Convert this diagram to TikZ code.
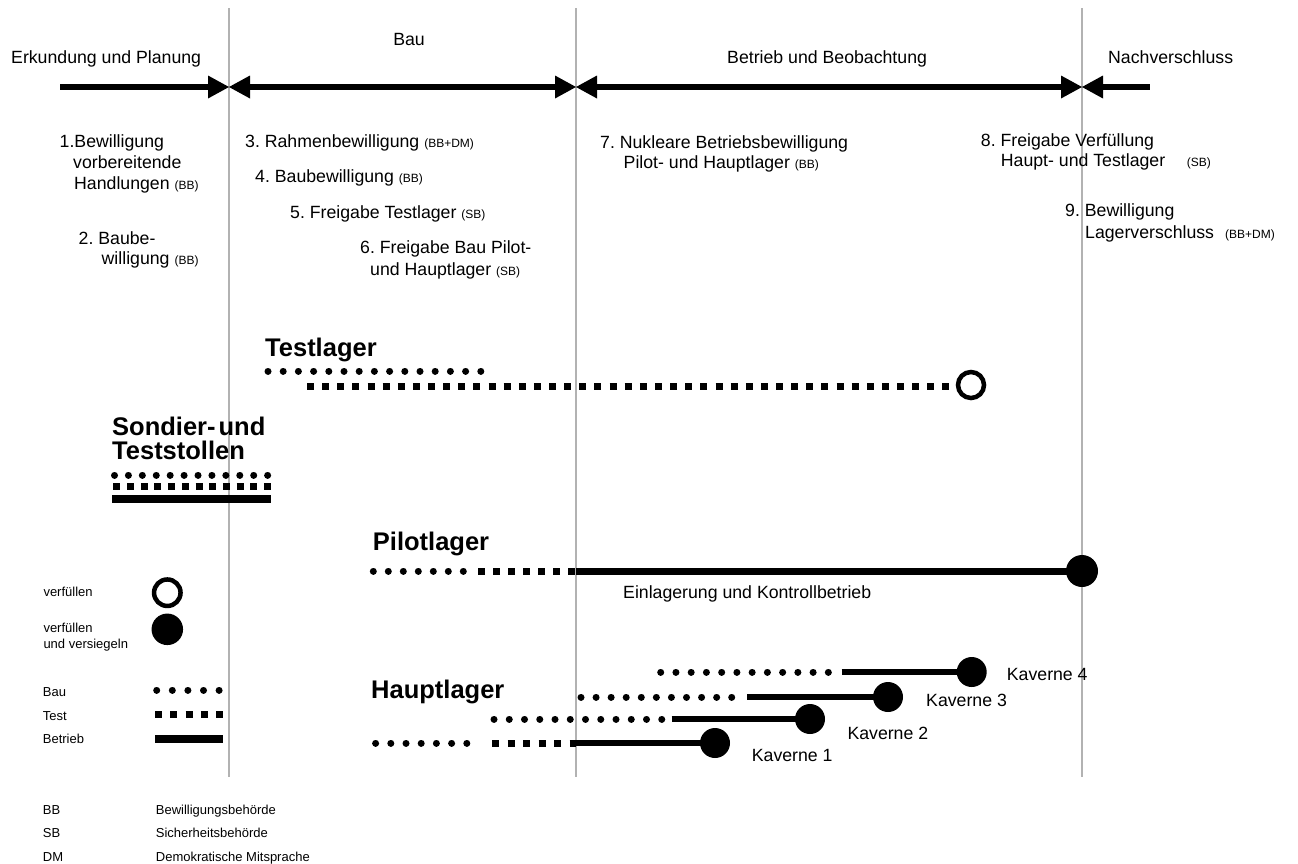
\documentclass[tikz,border=0pt]{standalone}
\usepackage{fontspec}
\setmainfont{Liberation Sans}
\usetikzlibrary{arrows.meta}
\newcommand\smp[1]{{\fontsize{12}{14}\selectfont #1}}
\frenchspacing
\begin{document}
\begin{tikzpicture}[x=1pt,y=-1pt,
  txt/.style={anchor=base west,inner sep=0pt,font=\fontsize{17.7}{21}\selectfont},
  smtxt/.style={anchor=base west,inner sep=0pt,font=\fontsize{12}{14}\selectfont},
  hdr/.style={anchor=base west,inner sep=0pt,font=\fontsize{25.5}{28}\bfseries\selectfont},
  leg/.style={anchor=base west,inner sep=0pt,font=\fontsize{13}{15}\selectfont},
  vline/.style={draw=black!30,line width=1.3pt},
  phase/.style={line width=5.5pt},
  mytri/.tip={Triangle[length=21pt,width=23pt,line width=0pt]},
  dotrow/.style={line width=7pt,line cap=round,dash pattern=on 0.01pt off #1},
  sqrow/.style={line width=7pt,dash pattern=on 7pt off #1},
  oper/.style={line width=#1},
  endfill/.style={circle,fill=black,minimum size=#1,inner sep=0pt},
  endopen/.style={circle,draw=black,line width=4.5pt,minimum size=26pt,inner sep=0pt}
]
\useasboundingbox (0,0) rectangle (1298,863);

% vertical phase separators
\coordinate (v1t) at (229,8);  \coordinate (v1b) at (229,777);
\coordinate (v2t) at (576,8);  \coordinate (v2b) at (576,777);
\coordinate (v3t) at (1082,8); \coordinate (v3b) at (1082,777);
\draw[vline] (v1t) -- (v1b);
\draw[vline] (v2t) -- (v2b);
\draw[vline] (v3t) -- (v3b);

% phase titles
\node[txt] (t1) at (11,63) {Erkundung und Planung};
\node[txt,anchor=base] (t2) at (409,45) {Bau};
\node[txt] (t3) at (727,63) {Betrieb und Beobachtung};
\node[txt] (t4) at (1108,63) {Nachverschluss};

% timeline arrows
\coordinate (a0) at (60,87);
\coordinate (a1) at (229,87);
\coordinate (a2) at (576,87);
\coordinate (a3) at (1082,87);
\coordinate (a4) at (1150,87);
\draw[phase,-mytri] (a0) -- (a1);
\draw[phase,mytri-mytri] (a1) -- (a2);
\draw[phase,mytri-mytri] (a2) -- (a3);
\draw[phase,mytri-] (a3) -- (a4);

% permits
\node[txt] (p1a) at (59.5,147.5) {1.Bewilligung};
\node[txt] (p1b) at (73,168.5) {vorbereitende};
\node[txt] (p1c) at (74,189.5) {Handlungen \smp{(BB)}};
\node[txt] (p2a) at (78.5,244) {2. Baube-};
\node[txt] (p2b) at (101.5,264) {willigung \smp{(BB)}};

\node[txt] (p3) at (245,147) {3. Rahmenbewilligung \smp{(BB+DM)}};
\node[txt] (p4) at (255,182.7) {4. Baubewilligung \smp{(BB)}};
\node[txt] (p5) at (290,218.3) {5. Freigabe Testlager \smp{(SB)}};
\node[txt] (p6a) at (360,253.3) {6. Freigabe Bau Pilot-};
\node[txt] (p6b) at (370,275) {und Hauptlager \smp{(SB)}};

\node[txt] (p7a) at (600,148) {7. Nukleare Betriebsbewilligung};
\node[txt] (p7b) at (623.5,168) {Pilot- und Hauptlager \smp{(BB)}};

\node[txt] (p8a) at (980.7,146.7) {8. Freigabe Verfüllung};
\node[txt] (p8b) at (1000.7,166.7) {Haupt- und Testlager};
\node[smtxt] (p8c) at (1186.7,166.7) {(SB)};
\node[txt] (p9a) at (1065,216) {9. Bewilligung};
\node[txt] (p9b) at (1085,238.3) {Lagerverschluss};
\node[smtxt] (p9c) at (1225,238.3) {(BB+DM)};

% Testlager
\node[hdr] (tl) at (265,356.7) {Testlager};
\coordinate (tlb0) at (268,371); \coordinate (tlb1) at (482,371);
\draw[dotrow=15.19pt] (tlb0) -- (tlb1);
\coordinate (tlt0) at (307,386); \coordinate (tlt1) at (949,386);
\draw[sqrow=8.13pt] (tlt0) -- (tlt1);
\node[endopen] (tlo) at (971,385) {};

% Sondier- und Teststollen
\node[hdr] (st1) at (112,435) {Sondier-\hspace{3pt}und};
\node[hdr] (st2) at (112,459) {Teststollen};
\coordinate (sb0) at (114.5,475); \coordinate (sb1) at (268.5,475);
\draw[dotrow=13.91pt] (sb0) -- (sb1);
\coordinate (stt0) at (113.4,486); \coordinate (stt1) at (271,486);
\draw[sqrow=6.69pt] (stt0) -- (stt1);
\coordinate (so0) at (112,499); \coordinate (so1) at (271,499);
\draw[oper=8pt] (so0) -- (so1);

% Pilotlager
\node[hdr] (pl) at (372.7,550) {Pilotlager};
\coordinate (pb0) at (373.3,571); \coordinate (pb1) at (464.5,571);
\draw[dotrow=14.99pt] (pb0) -- (pb1);
\coordinate (pt0) at (478,571); \coordinate (pt1) at (576,571);
\draw[sqrow=8pt] (pt0) -- (pt1);
\node[endfill=32pt] (plc) at (1082,571) {};
\draw[oper=7pt] (pt1) -- (plc.center);
\node[txt] (ein) at (623,598.5) {Einlagerung und Kontrollbetrieb};

% Hauptlager
\node[hdr] (hl) at (371,698) {Hauptlager};
% Kaverne 1
\coordinate (k1b0) at (375.6,743); \coordinate (k1b1) at (467.5,743);
\draw[dotrow=15.19pt] (k1b0) -- (k1b1);
\coordinate (k1t0) at (492,743); \coordinate (k1t1) at (576,743);
\draw[sqrow=8.5pt] (k1t0) -- (k1t1);
\node[endfill=30pt] (k1c) at (715,743) {};
\draw[oper=6.5pt] (k1t1) -- (k1c.center);
\node[txt] (k1l) at (751.7,761.7) {Kaverne 1};
% Kaverne 2
\coordinate (k2b0) at (494,719); \coordinate (k2b1) at (662.5,719);
\draw[dotrow=15.24pt] (k2b0) -- (k2b1);
\coordinate (k2o) at (671.7,719);
\node[endfill=30pt] (k2c) at (810,719) {};
\draw[oper=6.5pt] (k2o) -- (k2c.center);
\node[txt] (k2l) at (847.3,739.3) {Kaverne 2};
% Kaverne 3
\coordinate (k3b0) at (581,697); \coordinate (k3b1) at (732.5,697);
\draw[dotrow=15.06pt] (k3b0) -- (k3b1);
\coordinate (k3o) at (747.3,697);
\node[endfill=30pt] (k3c) at (888,697) {};
\draw[oper=6.5pt] (k3o) -- (k3c.center);
\node[txt] (k3l) at (926,706.7) {Kaverne 3};
% Kaverne 4
\coordinate (k4b0) at (660.7,672); \coordinate (k4b1) at (829,672);
\draw[dotrow=15.23pt] (k4b0) -- (k4b1);
\coordinate (k4o) at (841.7,672);
\node[endfill=30pt] (k4c) at (971.7,672) {};
\draw[oper=6.5pt] (k4o) -- (k4c.center);
\node[txt] (k4l) at (1006.7,680) {Kaverne 4};

% legend
\node[leg] (lg1) at (43.3,596.7) {verfüllen};
\node[circle,draw=black,line width=4.5pt,minimum size=26.5pt,inner sep=0pt] (lgo) at (167.3,592.7) {};
\node[leg] (lg2a) at (43.3,632.7) {verfüllen};
\node[leg] (lg2b) at (43.3,648.3) {und versiegeln};
\node[endfill=31.5pt] (lgf) at (167.3,629.3) {};
\node[leg] (lg3) at (42.7,696.7) {Bau};
\coordinate (lgb0) at (156.7,690); \coordinate (lgb1) at (219.8,690);
\draw[dotrow=15.59pt] (lgb0) -- (lgb1);
\node[leg] (lg4) at (42.7,720) {Test};
\coordinate (lgt0) at (155,714.3); \coordinate (lgt1) at (223.3,714.3);
\draw[sqrow=8.3pt] (lgt0) -- (lgt1);
\node[leg] (lg5) at (42.7,743.3) {Betrieb};
\coordinate (lgo0) at (155,739); \coordinate (lgo1) at (223.3,739);
\draw[oper=7.5pt] (lgo0) -- (lgo1);

% abbreviations
\node[leg] (ab1) at (42.7,814) {BB};
\node[leg] (ab1t) at (155.7,814) {Bewilligungsbehörde};
\node[leg] (ab2) at (42.7,837.7) {SB};
\node[leg] (ab2t) at (155.7,837.7) {Sicherheitsbehörde};
\node[leg] (ab3) at (42.7,861) {DM};
\node[leg] (ab3t) at (155.7,861) {Demokratische Mitsprache};
\end{tikzpicture}
\end{document}
